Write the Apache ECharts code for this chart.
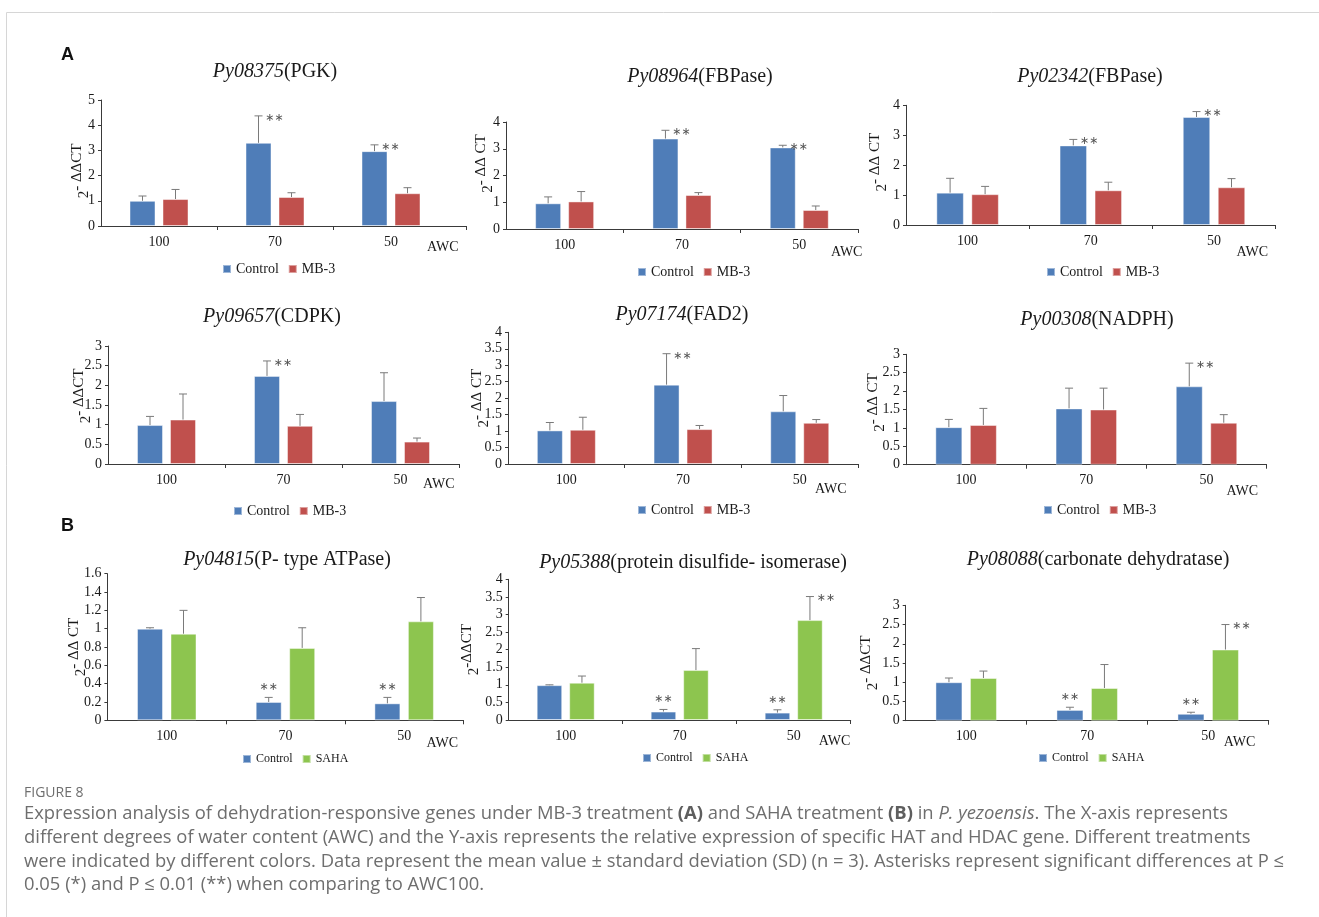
<!DOCTYPE html>
<html>
<head>
<meta charset="utf-8">
<script src="https://cdn.jsdelivr.net/npm/echarts@6/dist/echarts.min.js"></script>
<style>
  html, body { margin: 0; padding: 0; background: #fff; }
  #chart { width: 1319px; height: 917px; }
</style>
</head>
<body>
<div id="chart"></div>
<script>
// Absolute water content levels (%)
const awc = ['100', '70', '50'];

// Gene titles
const geneIds = ['Py08375', 'Py08964', 'Py02342', 'Py09657', 'Py07174', 'Py00308', 'Py04815', 'Py05388', 'Py08088'];
const geneNames = ['PGK', 'FBPase', 'FBPase', 'CDPK', 'FAD2', 'NADPH', 'P- type ATPase', 'protein disulfide- isomerase', 'carbonate dehydratase'];
const yNameTails = ['- ΔΔCT', '- ΔΔ CT', '- ΔΔ CT', '- ΔΔCT', '- ΔΔ CT', '- ΔΔ CT', '- ΔΔ CT', '-ΔΔCT', '- ΔΔCT'];

// (A) MB-3 treatment: mean 2^-ΔΔCT and SD
const pgkControl = [1.00, 3.30, 2.97];
const pgkControlSd = [0.19, 1.07, 0.25];
const pgkMb3 = [1.07, 1.15, 1.30];
const pgkMb3Sd = [0.38, 0.17, 0.22];
const pgkControlSig = ['', '**', '**'];
const pgkMb3Sig = ['', '', ''];

const fbp1Control = [0.96, 3.38, 3.05];
const fbp1ControlSd = [0.24, 0.31, 0.08];
const fbp1Mb3 = [1.03, 1.27, 0.71];
const fbp1Mb3Sd = [0.37, 0.09, 0.15];
const fbp1ControlSig = ['', '**', '**'];
const fbp1Mb3Sig = ['', '', ''];

const fbp2Control = [1.08, 2.66, 3.61];
const fbp2ControlSd = [0.48, 0.20, 0.18];
const fbp2Mb3 = [1.03, 1.16, 1.26];
const fbp2Mb3Sd = [0.26, 0.27, 0.29];
const fbp2ControlSig = ['', '**', '**'];
const fbp2Mb3Sig = ['', '', ''];

const cdpkControl = [0.99, 2.24, 1.60];
const cdpkControlSd = [0.22, 0.38, 0.72];
const cdpkMb3 = [1.13, 0.97, 0.57];
const cdpkMb3Sd = [0.65, 0.29, 0.09];
const cdpkControlSig = ['', '**', ''];
const cdpkMb3Sig = ['', '', ''];

const fadControl = [1.02, 2.41, 1.60];
const fadControlSd = [0.24, 0.94, 0.48];
const fadMb3 = [1.04, 1.06, 1.25];
const fadMb3Sd = [0.38, 0.11, 0.10];
const fadControlSig = ['', '**', ''];
const fadMb3Sig = ['', '', ''];

const nadphControl = [1.02, 1.53, 2.13];
const nadphControlSd = [0.21, 0.55, 0.63];
const nadphMb3 = [1.08, 1.50, 1.14];
const nadphMb3Sd = [0.45, 0.58, 0.22];
const nadphControlSig = ['', '', '**'];
const nadphMb3Sig = ['', '', ''];

// (B) SAHA treatment
const atpControl = [1.00, 0.20, 0.185];
const atpControlSd = [0.01, 0.05, 0.065];
const atpSaha = [0.945, 0.79, 1.08];
const atpSahaSd = [0.255, 0.22, 0.26];
const atpControlSig = ['', '**', '**'];
const atpSahaSig = ['', '', ''];

const pdiControl = [0.99, 0.24, 0.21];
const pdiControlSd = [0.01, 0.06, 0.08];
const pdiSaha = [1.06, 1.42, 2.84];
const pdiSahaSd = [0.19, 0.61, 0.67];
const pdiControlSig = ['', '**', '**'];
const pdiSahaSig = ['', '', '**'];

const caControl = [1.00, 0.28, 0.18];
const caControlSd = [0.11, 0.07, 0.04];
const caSaha = [1.11, 0.85, 1.85];
const caSahaSd = [0.18, 0.61, 0.65];
const caControlSig = ['', '**', '**'];
const caSahaSig = ['', '', '**'];

const panels = [
  { ctrl: pgkControl, ctrlSd: pgkControlSd, ctrlSig: pgkControlSig, trt: pgkMb3, trtSd: pgkMb3Sd, trtSig: pgkMb3Sig, trtName: 'MB-3' },
  { ctrl: fbp1Control, ctrlSd: fbp1ControlSd, ctrlSig: fbp1ControlSig, trt: fbp1Mb3, trtSd: fbp1Mb3Sd, trtSig: fbp1Mb3Sig, trtName: 'MB-3' },
  { ctrl: fbp2Control, ctrlSd: fbp2ControlSd, ctrlSig: fbp2ControlSig, trt: fbp2Mb3, trtSd: fbp2Mb3Sd, trtSig: fbp2Mb3Sig, trtName: 'MB-3' },
  { ctrl: cdpkControl, ctrlSd: cdpkControlSd, ctrlSig: cdpkControlSig, trt: cdpkMb3, trtSd: cdpkMb3Sd, trtSig: cdpkMb3Sig, trtName: 'MB-3' },
  { ctrl: fadControl, ctrlSd: fadControlSd, ctrlSig: fadControlSig, trt: fadMb3, trtSd: fadMb3Sd, trtSig: fadMb3Sig, trtName: 'MB-3' },
  { ctrl: nadphControl, ctrlSd: nadphControlSd, ctrlSig: nadphControlSig, trt: nadphMb3, trtSd: nadphMb3Sd, trtSig: nadphMb3Sig, trtName: 'MB-3' },
  { ctrl: atpControl, ctrlSd: atpControlSd, ctrlSig: atpControlSig, trt: atpSaha, trtSd: atpSahaSd, trtSig: atpSahaSig, trtName: 'SAHA' },
  { ctrl: pdiControl, ctrlSd: pdiControlSd, ctrlSig: pdiControlSig, trt: pdiSaha, trtSd: pdiSahaSd, trtSig: pdiSahaSig, trtName: 'SAHA' },
  { ctrl: caControl, ctrlSd: caControlSd, ctrlSig: caControlSig, trt: caSaha, trtSd: caSahaSd, trtSig: caSahaSig, trtName: 'SAHA' }
];

// Panel frames: value-axis x, category width, axis overhang, y of top / zero, y range,
// bar width and gap, title centre, legend origin, AWC offset, y-name gap / shift, star placement
const frames = [
  { left: 101,   cat: 116,   over: 17, top: 100,   zero: 226,   max: 5,   step: 1,   bw: 26,   gap: 7,   title: [275, 72],  legend: [222, 262], awc: [-39, 21], nameGap: 9,  nameShift: 8,   ctrlStar: 'right', lf: 14 },
  { left: 506,   cat: 117.3, over: 0,  top: 122,   zero: 229,   max: 4,   step: 1,   bw: 26,   gap: 7,   title: [700, 77],  legend: [637, 265], awc: [-27, 23], nameGap: 10, nameShift: -12, ctrlStar: 'right', lf: 14 },
  { left: 906,   cat: 123.2, over: 0,  top: 105.3, zero: 225,   max: 4,   step: 1,   bw: 27.5, gap: 7.5, title: [1090, 77], legend: [1046, 265], awc: [-39, 27], nameGap: 16, nameShift: -3,  ctrlStar: 'right', lf: 14 },
  { left: 108,   cat: 117,   over: 0,  top: 346,   zero: 464,   max: 3,   step: 0.5, bw: 26,   gap: 7,   title: [272, 317], legend: [233, 504], awc: [-36, 20], nameGap: 14, nameShift: -9,  ctrlStar: 'right', lf: 14 },
  { left: 508,   cat: 116.7, over: 0,  top: 332.3, zero: 464,   max: 4,   step: 0.5, bw: 26,   gap: 7,   title: [682, 315], legend: [637, 503], awc: [-43, 25], nameGap: 16, nameShift: 0,   ctrlStar: 'right', lf: 14 },
  { left: 906,   cat: 120.2, over: 0,  top: 354.3, zero: 464.7, max: 3,   step: 0.5, bw: 27,   gap: 7.5, title: [1097, 320], legend: [1043, 503], awc: [-40, 27], nameGap: 18, nameShift: -7,  ctrlStar: 'right', lf: 14 },
  { left: 107.4, cat: 118.7, over: 0,  top: 573.7, zero: 720.3, max: 1.6, step: 0.2, bw: 26,   gap: 7.5, title: [287, 560], legend: [242, 753], awc: [-37, 23], nameGap: 19, nameShift: 0,   ctrlStar: 'above', lf: 12 },
  { left: 508.7, cat: 114,   over: 0,  top: 579.3, zero: 720,   max: 4,   step: 0.5, bw: 25.5, gap: 7,   title: [693, 563], legend: [642, 752], awc: [-32, 21], nameGap: 27, nameShift: 0,   ctrlStar: 'above', lf: 12 },
  { left: 905.7, cat: 121,   over: 0,  top: 605.3, zero: 720.7, max: 3,   step: 0.5, bw: 27,   gap: 7.5, title: [1098, 560], legend: [1038, 752], awc: [-45, 22], nameGap: 25, nameShift: 0,   ctrlStar: 'above', lf: 12 }
];

const SERIF = 'Liberation Serif';
const INK = '#1a1a1a';
const AXIS = '#3a3a3a';
const colors = { 'Control': '#4F7DB8', 'MB-3': '#C0504D', 'SAHA': '#8DC54F' };

const grid = [], xAxis = [], yAxis = [], series = [], legend = [], title = [];

frames.forEach((f, i) => {
  const p = panels[i];
  const xMax = 3 + f.over / f.cat;
  grid.push({ left: f.left, top: f.top, width: 3 * f.cat + f.over, height: f.zero - f.top, containLabel: false });

  xAxis.push({
    type: 'value', gridIndex: i, min: 0, max: xMax,
    splitLine: { show: false },
    axisLine: { show: true, lineStyle: { color: AXIS, width: 1 } },
    axisTick: { show: true, customValues: [1, 2, xMax], length: 4, lineStyle: { color: AXIS } },
    axisLabel: {
      customValues: [0.5, 1.5, 2.5],
      formatter: v => awc[Math.round(v - 0.5)],
      fontFamily: SERIF, fontSize: 14, color: INK, margin: 9
    },
    // "AWC" sits under the right end of the axis
    name: '{a|AWC}', nameLocation: 'end', nameGap: f.awc[0], nameMoveOverlap: false,
    nameTextStyle: {
      verticalAlign: 'middle',
      rich: { a: { fontFamily: SERIF, fontSize: 14, color: INK, padding: [2 * f.awc[1], 0, 0, 0] } }
    }
  });

  // rotated "2^-ΔΔCT" title; side padding slides it along the axis
  const down = Math.max(0, f.nameShift) * 2, up = Math.max(0, -f.nameShift) * 2;
  yAxis.push({
    type: 'value', gridIndex: i, min: 0, max: f.max, interval: f.step,
    splitLine: { show: false },
    axisLine: { show: true, lineStyle: { color: AXIS, width: 1 } },
    axisTick: { show: true, length: 3, lineStyle: { color: AXIS } },
    axisLabel: { fontFamily: SERIF, fontSize: 14, color: INK, margin: 6 },
    name: '{b|2}{s|' + yNameTails[i] + '}',
    nameLocation: 'middle', nameGap: f.nameGap, nameMoveOverlap: false,
    nameTextStyle: {
      rich: {
        b: { fontFamily: SERIF, fontSize: 15, color: INK, lineHeight: 22, verticalAlign: 'bottom', padding: [0, 0, 0, up] },
        s: { fontFamily: SERIF, fontSize: 15, color: INK, lineHeight: 14, verticalAlign: 'top', padding: [0, down, 0, 0] }
      }
    }
  });

  const pts = vals => vals.map((v, k) => [k + 0.5, v]);
  const gapPct = (f.gap / f.bw * 100) + '%';
  series.push({
    type: 'bar', name: 'Control', xAxisIndex: i, yAxisIndex: i, data: pts(p.ctrl),
    barWidth: f.bw, barGap: gapPct,
    itemStyle: { color: colors['Control'], borderColor: 'rgba(255,255,255,0.45)', borderWidth: 1 }
  });
  series.push({
    type: 'bar', name: p.trtName, xAxisIndex: i, yAxisIndex: i, data: pts(p.trt),
    barWidth: f.bw, barGap: gapPct,
    itemStyle: { color: colors[p.trtName], borderColor: 'rgba(255,255,255,0.45)', borderWidth: 1 }
  });

  // error bars (mean + SD) and significance marks
  const err = [];
  p.ctrl.forEach((v, k) => err.push([k + 0.5, v, p.ctrlSd[k], -1, p.ctrlSig[k].length, f.ctrlStar === 'above' ? 1 : 0]));
  p.trt.forEach((v, k) => err.push([k + 0.5, v, p.trtSd[k], 1, p.trtSig[k].length, 0]));
  const shift = (f.bw + f.gap) / 2;
  series.push({
    type: 'custom', xAxisIndex: i, yAxisIndex: i, data: err, clip: false, silent: true, z: 5,
    renderItem: (params, api) => {
      const x = api.value(0), m = api.value(1), sd = api.value(2);
      const side = api.value(3), stars = api.value(4), above = api.value(5);
      const base = api.coord([x, m]);
      const tip = api.coord([x, m + sd]);
      const cx = base[0] + side * shift;
      const ls = { stroke: '#7a7a7a', lineWidth: 1 };
      const children = [
        { type: 'line', shape: { x1: cx, y1: base[1], x2: cx, y2: tip[1] }, style: ls },
        { type: 'line', shape: { x1: cx - 4, y1: tip[1], x2: cx + 4, y2: tip[1] }, style: ls }
      ];
      if (stars > 0) {
        const sx = above ? cx : cx + 16;
        const sy = above ? tip[1] - 10 : tip[1] + 2;
        children.push({
          type: 'text', x: sx, y: sy,
          style: { text: '∗∗', fontFamily: 'DejaVu Sans', fontSize: 11, fill: '#555', align: 'center', verticalAlign: 'middle' }
        });
      }
      return { type: 'group', children };
    }
  });

  legend.push({
    left: f.legend[0], top: f.legend[1], padding: 0, icon: 'rect', itemWidth: 8, itemHeight: 8, itemGap: 9,
    data: ['Control', p.trtName], selectedMode: false,
    textStyle: { fontFamily: SERIF, fontSize: f.lf, color: INK }
  });

  title.push({
    text: '{i|' + geneIds[i] + '}{n|(' + geneNames[i] + ')}',
    left: f.title[0], top: f.title[1], textAlign: 'center', textVerticalAlign: 'middle', padding: 0,
    textStyle: {
      rich: {
        i: { fontFamily: SERIF, fontSize: 20, fontStyle: 'italic', fontWeight: 'normal', color: INK },
        n: { fontFamily: SERIF, fontSize: 20, fontWeight: 'normal', color: INK }
      }
    }
  });
});

const CAP_SIZE = 18.4;
const capStyle = { fontFamily: 'Open Sans', fontSize: CAP_SIZE, fill: '#6e6e6e' };
const capRich = {
  b: { fontFamily: 'Open Sans', fontSize: CAP_SIZE, fontWeight: 'bold', fill: '#5e5e5e' },
  i: { fontFamily: 'Open Sans', fontSize: CAP_SIZE, fontStyle: 'italic', fill: '#6e6e6e' }
};
const captionLines = [
  'Expression analysis of dehydration-responsive genes under MB-3 treatment {b|(A)} and SAHA treatment {b|(B)} in {i|P. yezoensis}. The X-axis represents',
  'different degrees of water content (AWC) and the Y-axis represents the relative expression of specific HAT and HDAC gene. Different treatments',
  'were indicated by different colors. Data represent the mean value ± standard deviation (SD) (n = 3). Asterisks represent significant differences at P ≤',
  '0.05 (*) and P ≤ 0.01 (**) when comparing to AWC100.'
];

const graphic = [
  { type: 'rect', shape: { x: 6.5, y: 12.5, width: 1400, height: 1000 }, style: { fill: 'none', stroke: '#d6d6d6', lineWidth: 1 }, silent: true },
  { type: 'text', x: 61, y: 55, style: { text: 'A', fontFamily: 'Liberation Sans', fontWeight: 'bold', fontSize: 18, fill: '#111', verticalAlign: 'middle' } },
  { type: 'text', x: 61, y: 526, style: { text: 'B', fontFamily: 'Liberation Sans', fontWeight: 'bold', fontSize: 18, fill: '#111', verticalAlign: 'middle' } },
  { type: 'text', x: 24, y: 793, style: { text: 'FIGURE 8', fontFamily: 'Open Sans', fontSize: 14, fill: '#6e6e6e', verticalAlign: 'middle' } }
];
captionLines.forEach((t, k) => {
  graphic.push({ type: 'text', x: 24, y: 814 + k * 23.7, style: Object.assign({ text: t, rich: capRich, verticalAlign: 'middle' }, capStyle) });
});

const chart = echarts.init(document.getElementById('chart'));
chart.setOption({
  backgroundColor: '#fff',
  animation: false,
  title, grid, xAxis, yAxis, legend, series, graphic
});
</script>
</body>
</html>
